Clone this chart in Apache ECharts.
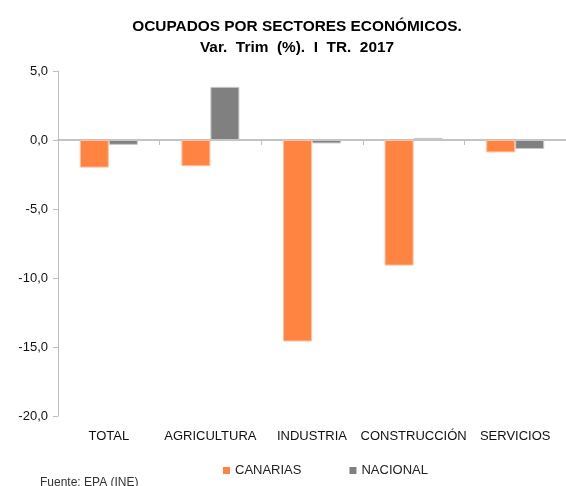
<!DOCTYPE html>
<html>
<head>
<meta charset="utf-8">
<script src="https://cdn.jsdelivr.net/npm/echarts@6/dist/echarts.min.js"></script>
<style>
  html, body { margin: 0; padding: 0; background: #fff; }
  #main { width: 566px; height: 486px; }
</style>
</head>
<body>
<div id="main"></div>
<script>
// datos
const sectores = ["TOTAL", "AGRICULTURA", "INDUSTRIA", "CONSTRUCCIÓN", "SERVICIOS"];
const canarias = [-2.0, -1.9, -14.6, -9.1, -0.9];
const nacional = [-0.35, 3.85, -0.25, 0.15, -0.65];

const myChart = echarts.init(document.getElementById("main"));
const fmt = (v) => v.toFixed(1).replace(".", ",");

const option = {
  animation: false,
  textStyle: { fontFamily: "Liberation Sans, Arial, sans-serif" },
  title: {
    text: "OCUPADOS POR SECTORES ECONÓMICOS.\nVar.  Trim  (%).  I  TR.  2017",
    left: 292,
    textAlign: "center",
    top: 11,
    textStyle: {
      fontSize: 15.4,
      fontWeight: "bold",
      color: "#000",
      lineHeight: 21,
      fontFamily: "Liberation Sans, Arial, sans-serif",
    },
  },
  legend: {
    data: ["CANARIAS", "NACIONAL"],
    top: 459,
    left: 218,
    itemWidth: 7,
    itemHeight: 7,
    itemGap: 48,
    icon: "rect",
    itemStyle: { borderWidth: 0 },
    textStyle: { fontSize: 13, color: "#222" },
  },
  graphic: [
    {
      type: "text",
      left: 40,
      top: 477,
      style: { text: "Fuente: EPA (INE)", fontSize: 12, fill: "#333", fontFamily: "Liberation Sans, Arial, sans-serif" },
    },
  ],
  grid: { left: 58, top: 71, width: 508, height: 345 },
  xAxis: [
    {
      // línea del cero con marcas entre categorías
      type: "category",
      data: sectores,
      position: "bottom",
      axisLine: { show: true, onZero: true, lineStyle: { color: "#b0b0b0", width: 1.5 } },
      axisTick: { show: true, interval: 0, length: 5, lineStyle: { color: "#bfbfbf" } },
      axisLabel: { show: false },
    },
    {
      // etiquetas abajo
      type: "category",
      data: sectores,
      position: "bottom",
      axisLine: { show: false, onZero: false },
      axisTick: { show: false },
      axisLabel: { fontSize: 13, color: "#111", margin: 14, interval: 0 },
    },
  ],
  yAxis: {
    type: "value",
    min: -20,
    max: 5,
    interval: 5,
    axisLine: { show: true, lineStyle: { color: "#bfbfbf" } },
    axisTick: { show: true, length: 5, lineStyle: { color: "#bfbfbf" } },
    splitLine: { show: false },
    axisLabel: { fontSize: 13, color: "#111", margin: 10, formatter: fmt },
  },
  series: [
    {
      name: "CANARIAS",
      type: "bar",
      xAxisIndex: 0,
      data: canarias,
      barWidth: 29,
      barGap: "0%",
      itemStyle: { color: "#FF8442", borderColor: "#ffc2a0", borderWidth: 1 },
    },
    {
      name: "NACIONAL",
      type: "bar",
      xAxisIndex: 0,
      data: nacional,
      barWidth: 29,
      barGap: "0%",
      itemStyle: { color: "#808080", borderColor: "#c8c8c8", borderWidth: 1 },
    },
  ],
};

myChart.setOption(option);
</script>
</body>
</html>
